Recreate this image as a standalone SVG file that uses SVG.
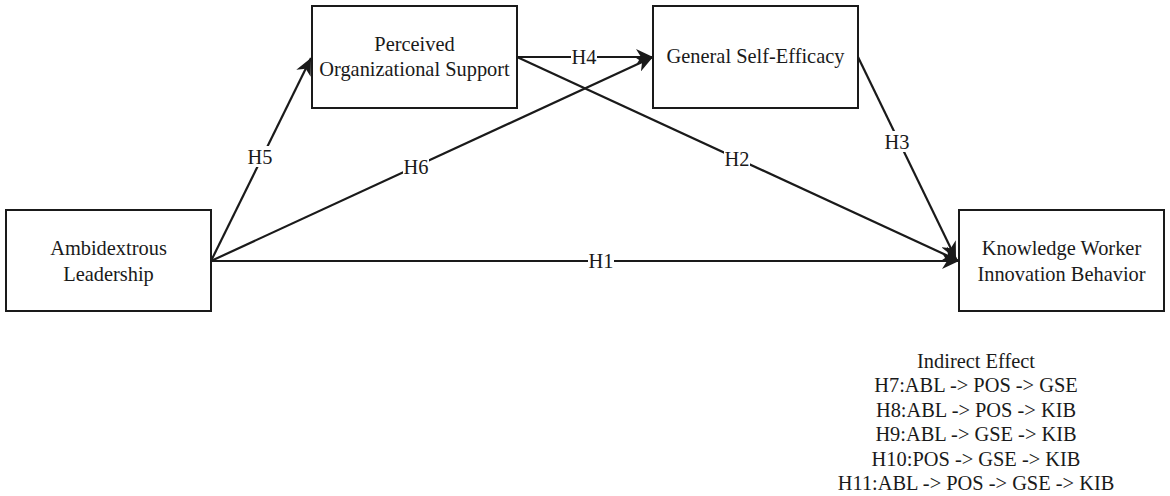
<svg xmlns="http://www.w3.org/2000/svg" width="1170" height="496" viewBox="0 0 1170 496">
<defs>
<style>
.box{fill:#fff;stroke:#1a1a1a;stroke-width:2}
.t{font-family:"Liberation Serif","Times New Roman",serif;font-size:20.4px;fill:#1a1a1a;text-anchor:middle}
.e{fill:none;stroke:#1a1a1a;stroke-width:2.2}
.lb{fill:#fff}
</style>
<marker id="arr" markerUnits="userSpaceOnUse" markerWidth="18" markerHeight="16" refX="17" refY="8" orient="auto" viewBox="0 0 18 16">
<path d="M0,0 L17,8 L0,16 L5,8 Z" fill="#1a1a1a"/>
</marker>
</defs>
<rect width="1170" height="496" fill="#fff"/>
<g id="connectors">
<line class="e" x1="211" y1="261" x2="311" y2="58" marker-end="url(#arr)"/>
<line class="e" x1="211" y1="261" x2="653" y2="57" marker-end="url(#arr)"/>
<line class="e" x1="211" y1="261" x2="959" y2="261" marker-end="url(#arr)"/>
<line class="e" x1="517" y1="57" x2="653" y2="57" marker-end="url(#arr)"/>
<line class="e" x1="517" y1="57" x2="959" y2="261" marker-end="url(#arr)"/>
<line class="e" x1="858" y1="57" x2="956" y2="259" marker-end="url(#arr)"/>
<g id="edge-labels">
<rect class="lb" x="247" y="146" width="26" height="21"/>
<text class="t" x="260" y="164">H5</text>
<rect class="lb" x="403" y="156" width="26" height="21"/>
<text class="t" x="416" y="174">H6</text>
<rect class="lb" x="588" y="250" width="26" height="21"/>
<text class="t" x="601" y="268">H1</text>
<rect class="lb" x="571" y="46" width="26" height="21"/>
<text class="t" x="584" y="64">H4</text>
<rect class="lb" x="724" y="148" width="26" height="21"/>
<text class="t" x="737" y="166">H2</text>
<rect class="lb" x="884" y="131" width="26" height="21"/>
<text class="t" x="897" y="149">H3</text>
</g>
</g>
<g id="node-al">
<rect class="box" x="6" y="210" width="205" height="101"/>
<text class="t" x="108.5" y="255">Ambidextrous</text>
<text class="t" x="108.5" y="281">Leadership</text>
</g>
<g id="node-pos">
<rect class="box" x="312" y="6" width="205" height="102"/>
<text class="t" x="414.5" y="50.5">Perceived</text>
<text class="t" x="414.5" y="76">Organizational Support</text>
</g>
<g id="node-gse">
<rect class="box" x="653" y="6" width="205" height="102"/>
<text class="t" x="755.5" y="63">General Self-Efficacy</text>
</g>
<g id="node-kib">
<rect class="box" x="959" y="210" width="205" height="101"/>
<text class="t" x="1061.5" y="255">Knowledge Worker</text>
<text class="t" x="1061.5" y="281">Innovation Behavior</text>
</g>
<g id="indirect-effect">
<text class="t" x="976" y="367.5">Indirect Effect</text>
<text class="t" x="976" y="392">H7:ABL -&gt; POS -&gt; GSE</text>
<text class="t" x="976" y="416.5">H8:ABL -&gt; POS -&gt; KIB</text>
<text class="t" x="976" y="441">H9:ABL -&gt; GSE -&gt; KIB</text>
<text class="t" x="976" y="465.5">H10:POS -&gt; GSE -&gt; KIB</text>
<text class="t" x="976" y="490">H11:ABL -&gt; POS -&gt; GSE -&gt; KIB</text>
</g>
</svg>
